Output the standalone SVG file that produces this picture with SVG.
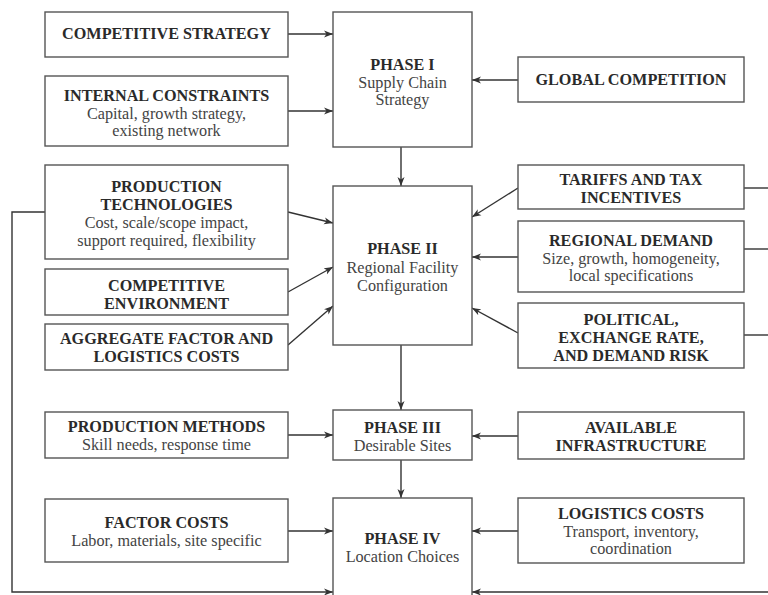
<svg xmlns="http://www.w3.org/2000/svg" width="768" height="595" viewBox="0 0 768 595">
<style>
.b{fill:#fff;stroke:#555;stroke-width:1.4}
.h{font-family:"Liberation Serif","Times New Roman",serif;font-weight:bold;font-size:16.2px;fill:#2a2a2a;text-anchor:middle}
.t{font-family:"Liberation Serif","Times New Roman",serif;font-size:16.2px;fill:#444;text-anchor:middle}
.c{fill:none;stroke:#333;stroke-width:1.4}
.a{marker-end:url(#ah)}
</style>
<defs>
<marker id="ah" markerWidth="10" markerHeight="8" refX="9" refY="4" orient="auto" markerUnits="userSpaceOnUse">
<path d="M0,0.5 L9,4 L0,7.5 L2.5,4 Z" fill="#333"/>
</marker>
</defs>
<rect width="768" height="595" fill="#fff"/>
<g id="connectors">
<line class="c a" x1="288" y1="34" x2="333" y2="34"/>
<line class="c a" x1="288" y1="111" x2="333" y2="111"/>
<line class="c a" x1="518" y1="80" x2="472" y2="80"/>
<line class="c a" x1="401" y1="147" x2="401" y2="186"/>
<line class="c a" x1="288" y1="212" x2="333" y2="223"/>
<line class="c a" x1="288" y1="292" x2="333" y2="267"/>
<line class="c a" x1="288" y1="345" x2="333" y2="306"/>
<line class="c a" x1="518" y1="188" x2="472" y2="217"/>
<line class="c a" x1="518" y1="257" x2="472" y2="257"/>
<line class="c a" x1="518" y1="333" x2="472" y2="308"/>
<line class="c" x1="744" y1="188" x2="768" y2="188"/>
<line class="c" x1="744" y1="249" x2="768" y2="249"/>
<line class="c" x1="744" y1="335" x2="768" y2="335"/>
<line class="c a" x1="401" y1="345" x2="401" y2="410"/>
<line class="c a" x1="288" y1="435" x2="333" y2="435"/>
<line class="c a" x1="518" y1="436" x2="472" y2="436"/>
<line class="c a" x1="401" y1="460" x2="401" y2="498"/>
<line class="c a" x1="288" y1="531" x2="333" y2="531"/>
<line class="c a" x1="518" y1="531" x2="472" y2="531"/>
<polyline class="c a" points="45,212 12,212 12,592 333,592"/>
<line class="c a" x1="768" y1="592" x2="472" y2="592"/>
</g>
<g id="competitive-strategy">
<rect class="b" x="45" y="12" width="243" height="45"/>
<text class="h" x="166.5" y="39">COMPETITIVE STRATEGY</text>
</g>
<g id="internal-constraints">
<rect class="b" x="45" y="76" width="243" height="70"/>
<text class="h" x="166.5" y="100.5">INTERNAL CONSTRAINTS</text>
<text class="t" x="166.5" y="118.5">Capital, growth strategy,</text>
<text class="t" x="166.5" y="136">existing network</text>
</g>
<g id="phase-1">
<rect class="b" x="333" y="12" width="139" height="135"/>
<text class="h" x="402.5" y="70">PHASE I</text>
<text class="t" x="402.5" y="87.5">Supply Chain</text>
<text class="t" x="402.5" y="104.5">Strategy</text>
</g>
<g id="global-competition">
<rect class="b" x="518" y="57" width="226" height="45"/>
<text class="h" x="631" y="85">GLOBAL COMPETITION</text>
</g>
<g id="production-technologies">
<rect class="b" x="45" y="165" width="243" height="94"/>
<text class="h" x="166.5" y="192">PRODUCTION</text>
<text class="h" x="166.5" y="210">TECHNOLOGIES</text>
<text class="t" x="166.5" y="228">Cost, scale/scope impact,</text>
<text class="t" x="166.5" y="245.5">support required, flexibility</text>
</g>
<g id="competitive-environment">
<rect class="b" x="45" y="269" width="243" height="46"/>
<text class="h" x="166.5" y="291">COMPETITIVE</text>
<text class="h" x="166.5" y="308.5">ENVIRONMENT</text>
</g>
<g id="aggregate-costs">
<rect class="b" x="45" y="324" width="243" height="46"/>
<text class="h" x="166.5" y="343.5">AGGREGATE FACTOR AND</text>
<text class="h" x="166.5" y="361.5">LOGISTICS COSTS</text>
</g>
<g id="phase-2">
<rect class="b" x="333" y="186" width="139" height="159"/>
<text class="h" x="402.5" y="254">PHASE II</text>
<text class="t" x="402.5" y="273">Regional Facility</text>
<text class="t" x="402.5" y="291">Configuration</text>
</g>
<g id="tariffs">
<rect class="b" x="518" y="165" width="226" height="44"/>
<text class="h" x="631" y="185">TARIFFS AND TAX</text>
<text class="h" x="631" y="203">INCENTIVES</text>
</g>
<g id="regional-demand">
<rect class="b" x="518" y="221" width="226" height="71"/>
<text class="h" x="631" y="246">REGIONAL DEMAND</text>
<text class="t" x="631" y="264">Size, growth, homogeneity,</text>
<text class="t" x="631" y="281">local specifications</text>
</g>
<g id="political-risk">
<rect class="b" x="518" y="303" width="226" height="65"/>
<text class="h" x="631" y="325">POLITICAL,</text>
<text class="h" x="631" y="343">EXCHANGE RATE,</text>
<text class="h" x="631" y="361">AND DEMAND RISK</text>
</g>
<g id="production-methods">
<rect class="b" x="45" y="412" width="243" height="46"/>
<text class="h" x="166.5" y="432">PRODUCTION METHODS</text>
<text class="t" x="166.5" y="450">Skill needs, response time</text>
</g>
<g id="phase-3">
<rect class="b" x="333" y="410" width="139" height="50"/>
<text class="h" x="402.5" y="433">PHASE III</text>
<text class="t" x="402.5" y="451">Desirable Sites</text>
</g>
<g id="available-infrastructure">
<rect class="b" x="518" y="412" width="226" height="47"/>
<text class="h" x="631" y="433">AVAILABLE</text>
<text class="h" x="631" y="451">INFRASTRUCTURE</text>
</g>
<g id="factor-costs">
<rect class="b" x="45" y="499" width="243" height="63"/>
<text class="h" x="166.5" y="528">FACTOR COSTS</text>
<text class="t" x="166.5" y="546">Labor, materials, site specific</text>
</g>
<g id="phase-4">
<rect class="b" x="333" y="498" width="139" height="110"/>
<text class="h" x="402.5" y="544">PHASE IV</text>
<text class="t" x="402.5" y="562">Location Choices</text>
</g>
<g id="logistics-costs">
<rect class="b" x="518" y="498" width="226" height="65"/>
<text class="h" x="631" y="519">LOGISTICS COSTS</text>
<text class="t" x="631" y="537">Transport, inventory,</text>
<text class="t" x="631" y="554">coordination</text>
</g>
</svg>
